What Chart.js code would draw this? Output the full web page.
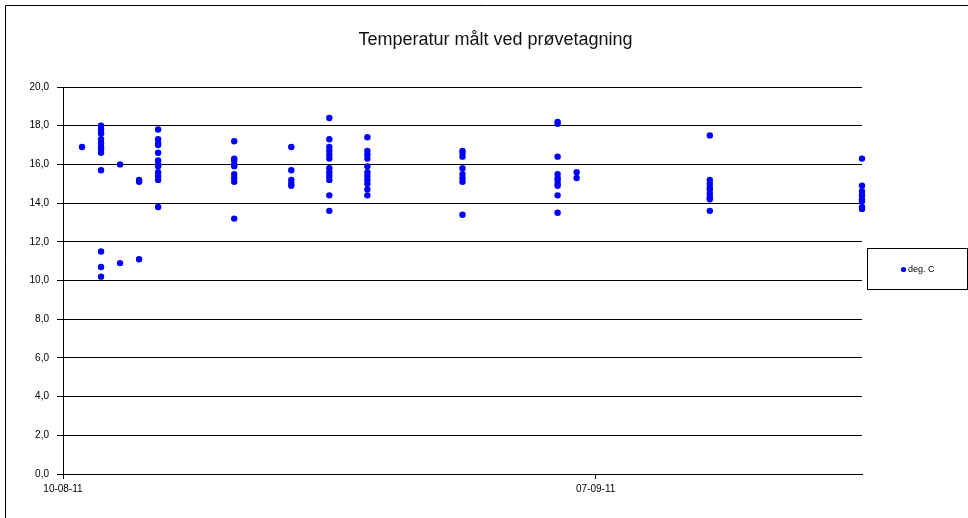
<!DOCTYPE html>
<html>
<head>
<meta charset="utf-8">
<script src="https://cdn.jsdelivr.net/npm/chart.js@4/dist/chart.umd.min.js"></script>
<style>
  html, body { margin: 0; padding: 0; background: #fff; }
  #wrap { width: 968px; height: 518px; }
</style>
</head>
<body>
<div id="wrap"><canvas id="c" width="968" height="518"></canvas></div>
<script>
// Sampling dates and the temperatures measured on each of them (deg. C)
const sampleDates = [
  '2011-08-11', '2011-08-12', '2011-08-13', '2011-08-14', '2011-08-15',
  '2011-08-19', '2011-08-22', '2011-08-24', '2011-08-26', '2011-08-31',
  '2011-09-05', '2011-09-06', '2011-09-13', '2011-09-21'
];
const temps0811 = [16.9];
const temps0812 = [18.0, 17.8, 17.6, 17.3, 17.1, 16.9, 16.8, 16.6, 15.7, 11.5, 10.7, 10.2];
const temps0813 = [16.0, 10.9];
const temps0814 = [15.2, 15.1, 11.1];
const temps0815 = [17.8, 17.3, 17.1, 17.0, 16.6, 16.2, 16.0, 15.9, 15.6, 15.4, 15.2, 13.8];
const temps0819 = [17.2, 16.3, 16.2, 16.0, 15.9, 15.5, 15.3, 15.1, 13.2];
const temps0822 = [16.9, 15.7, 15.2, 15.0, 14.9];
const temps0824 = [18.4, 17.3, 16.9, 16.7, 16.5, 16.3, 15.8, 15.6, 15.4, 15.2, 14.4, 13.6];
const temps0826 = [17.4, 16.7, 16.5, 16.3, 15.9, 15.6, 15.4, 15.2, 15.0, 14.7, 14.4];
const temps0831 = [16.7, 16.6, 16.4, 15.8, 15.5, 15.3, 15.1, 13.4];
const temps0905 = [18.2, 18.1, 16.4, 15.5, 15.3, 15.2, 15.0, 14.9, 14.4, 13.5];
const temps0906 = [15.6, 15.3];
const temps0913 = [17.5, 15.2, 15.0, 14.8, 14.7, 14.5, 14.3, 14.2, 13.6];
const temps0921 = [16.3, 14.9, 14.6, 14.4, 14.2, 14.1, 13.8, 13.7];
const tempsByDate = [
  temps0811, temps0812, temps0813, temps0814, temps0815, temps0819, temps0822,
  temps0824, temps0826, temps0831, temps0905, temps0906, temps0913, temps0921
];

// Axis settings
const axisStart = '2011-08-10';
const axisEnd = '2011-09-21';
const xTickDates = ['2011-08-10', '2011-09-07'];
const yTicks = [0, 2, 4, 6, 8, 10, 12, 14, 16, 18, 20];
const seriesLabel = 'deg. C';
const chartTitle = 'Temperatur målt ved prøvetagning';

const DAY = 86400000;
const toDay = s => {
  const [y, m, d] = s.split('-').map(Number);
  return Date.UTC(y, m - 1, d) / DAY;
};
const day0 = toDay(axisStart);
const fmtDate = v => {
  const dt = new Date((day0 + v) * DAY);
  const p = n => String(n).padStart(2, '0');
  return p(dt.getUTCDate()) + '-' + p(dt.getUTCMonth() + 1) + '-' + p(dt.getUTCFullYear() % 100);
};

const points = [];
sampleDates.forEach((d, i) => {
  tempsByDate[i].forEach(t => points.push({ x: toDay(d) - day0, y: t }));
});

const FONT = "'Liberation Sans', Arial, sans-serif";
const BLUE = '#0000ff';

// White background, frame and title
const framePlugin = {
  id: 'frame',
  beforeDraw(chart) {
    const ctx = chart.ctx;
    ctx.save();
    ctx.fillStyle = '#fff';
    ctx.fillRect(0, 0, chart.width, chart.height);
    ctx.strokeStyle = '#000';
    ctx.lineWidth = 1;
    ctx.beginPath();
    ctx.moveTo(5.5, chart.height);
    ctx.lineTo(5.5, 5.5);
    ctx.lineTo(chart.width, 5.5);
    ctx.stroke();
    ctx.fillStyle = '#111';
    ctx.font = '18px ' + FONT;
    ctx.textAlign = 'center';
    ctx.textBaseline = 'middle';
    ctx.fillText(chartTitle, 495.5, 40);
    ctx.restore();
  }
};

// Boxed legend to the right of the plot
const legendBoxPlugin = {
  id: 'legendBox',
  afterDraw(chart) {
    const ctx = chart.ctx;
    const ds = chart.data.datasets[0];
    ctx.save();
    ctx.strokeStyle = '#000';
    ctx.lineWidth = 1;
    ctx.strokeRect(867.5, 248.5, 100, 41);
    ctx.fillStyle = ds.backgroundColor;
    ctx.beginPath();
    ctx.arc(903.5, 269.5, 2.6, 0, Math.PI * 2);
    ctx.fill();
    ctx.fillStyle = '#000';
    ctx.font = '9px ' + FONT;
    ctx.textAlign = 'left';
    ctx.textBaseline = 'middle';
    ctx.fillText(ds.label, 908, 270);
    ctx.restore();
  }
};

new Chart(document.getElementById('c'), {
  type: 'scatter',
  data: {
    datasets: [{
      label: seriesLabel,
      data: points,
      backgroundColor: BLUE,
      borderColor: BLUE,
      borderWidth: 0,
      pointRadius: 3.2,
      pointHoverRadius: 3.2,
      clip: false
    }]
  },
  options: {
    responsive: false,
    animation: false,
    events: [],
    layout: { padding: { top: 87, right: 106, left: 0, bottom: 0 } },
    plugins: {
      legend: { display: false },
      title: { display: false },
      tooltip: { enabled: false }
    },
    scales: {
      x: {
        type: 'linear',
        min: 0,
        max: toDay(axisEnd) - day0,
        afterBuildTicks: s => { s.ticks = xTickDates.map(d => ({ value: toDay(d) - day0 })); },
        afterFit: s => { s.height = 44; },
        ticks: {
          callback: v => fmtDate(v),
          color: '#000',
          font: { family: FONT, size: 10 },
          padding: 4,
          maxRotation: 0,
          autoSkip: false
        },
        grid: { drawOnChartArea: false, drawTicks: true, tickLength: 5, color: '#000' },
        border: { display: true, color: '#000', width: 1 }
      },
      y: {
        min: yTicks[0],
        max: yTicks[yTicks.length - 1],
        afterBuildTicks: s => { s.ticks = yTicks.map(v => ({ value: v })); },
        afterFit: s => { s.width = 63; },
        ticks: {
          callback: v => v.toFixed(1).replace('.', ','),
          color: '#000',
          font: { family: FONT, size: 10 },
          padding: 8
        },
        grid: { color: '#000', lineWidth: 1, tickLength: 6 },
        border: { display: true, color: '#000', width: 1 }
      }
    }
  },
  plugins: [framePlugin, legendBoxPlugin]
});
</script>
</body>
</html>
